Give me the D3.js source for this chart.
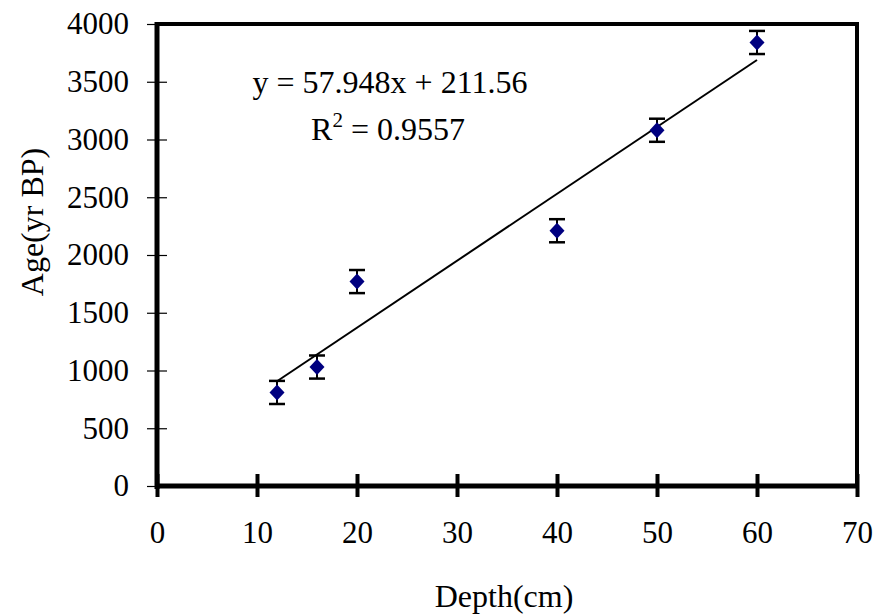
<!DOCTYPE html>
<html>
<head>
<meta charset="utf-8">
<script src="https://cdnjs.cloudflare.com/ajax/libs/d3/7.8.5/d3.min.js"></script>
<style>
  body { margin: 0; background: #fff; }
  text { font-family: "Liberation Serif", "Times New Roman", serif; fill: #000; }
</style>
</head>
<body>
<script>
// data
var depth = [12, 16, 20, 40, 50, 60];
var age = [810, 1030, 1770, 2210, 3080, 3840];
var err = [100, 100, 100, 100, 100, 100];
var slope = 57.948, intercept = 211.56;
var xTicks = [0, 10, 20, 30, 40, 50, 60, 70];
var yTicks = [0, 500, 1000, 1500, 2000, 2500, 3000, 3500, 4000];

var w = 875, h = 616;
var pLeft = 157, pRight = 857, pTop = 24, pBottom = 486;
var serif = "Liberation Serif, Times New Roman, serif";

var svg = d3.select("body").append("svg")
    .attr("width", w)
    .attr("height", h);

var x = d3.scaleLinear().domain([0, 70]).range([pLeft, pRight]);
var y = d3.scaleLinear().domain([0, 4000]).range([pBottom, pTop]);

// frame top / right
svg.append("line").attr("x1", pLeft).attr("x2", pRight + 2).attr("y1", pTop).attr("y2", pTop)
    .attr("stroke", "#000").attr("stroke-width", 4);
svg.append("line").attr("x1", pRight).attr("x2", pRight).attr("y1", pTop - 2).attr("y2", pBottom)
    .attr("stroke", "#000").attr("stroke-width", 4);

// y axis: thin ticks across the axis line
var yAxis = svg.append("g").attr("transform", "translate(" + pLeft + ",0)")
    .call(d3.axisLeft(y).tickValues(yTicks).tickSize(10).tickPadding(18).tickFormat(d3.format("d")));
yAxis.select(".domain").remove();
yAxis.selectAll(".tick line").attr("x2", 10).attr("x1", -10).attr("stroke", "#000").attr("stroke-width", 1.2);
yAxis.selectAll(".tick text").attr("font-size", 31).attr("font-family", serif);

// x axis: thick ticks across
var xAxis = svg.append("g").attr("transform", "translate(0," + pBottom + ")")
    .call(d3.axisBottom(x).tickValues(xTicks).tickSize(11).tickPadding(24));
xAxis.select(".domain").remove();
xAxis.selectAll(".tick line").attr("y1", -12).attr("y2", 11).attr("stroke", "#000").attr("stroke-width", 4);
xAxis.selectAll(".tick text").attr("font-size", 31).attr("font-family", serif);

// left / bottom axis lines (thick)
svg.append("line").attr("x1", pLeft).attr("x2", pLeft).attr("y1", pTop - 2).attr("y2", pBottom + 3)
    .attr("stroke", "#000").attr("stroke-width", 5);
svg.append("line").attr("x1", pLeft - 2).attr("x2", pRight + 2).attr("y1", pBottom).attr("y2", pBottom)
    .attr("stroke", "#000").attr("stroke-width", 5);

// trend line
var x0 = d3.min(depth), x1 = d3.max(depth);
svg.append("line")
    .attr("x1", x(x0)).attr("y1", y(slope * x0 + intercept))
    .attr("x2", x(x1)).attr("y2", y(slope * x1 + intercept))
    .attr("stroke", "#000").attr("stroke-width", 2);

// error bars
var bars = svg.selectAll(".err").data(depth).enter().append("g").attr("class", "err");
bars.append("line")
    .attr("x1", function(d) { return x(d); })
    .attr("x2", function(d) { return x(d); })
    .attr("y1", function(d, i) { return y(age[i] + err[i]); })
    .attr("y2", function(d, i) { return y(age[i] - err[i]); })
    .attr("stroke", "#000").attr("stroke-width", 2);
[1, -1].forEach(function(s) {
  bars.append("line")
      .attr("x1", function(d) { return x(d) - 8; })
      .attr("x2", function(d) { return x(d) + 8; })
      .attr("y1", function(d, i) { return y(age[i] + s * err[i]); })
      .attr("y2", function(d, i) { return y(age[i] + s * err[i]); })
      .attr("stroke", "#000").attr("stroke-width", 2.5);
});

// diamonds
svg.selectAll(".pt").data(depth).enter().append("path")
    .attr("class", "pt")
    .attr("d", "M0,-8L7.5,0L0,8L-7.5,0Z")
    .attr("transform", function(d, i) { return "translate(" + x(d) + "," + y(age[i]) + ")"; })
    .attr("fill", "#000080");

// equation
svg.append("text").attr("x", 390).attr("y", 93).attr("text-anchor", "middle")
    .attr("font-size", 32).text("y = 57.948x + 211.56");
var r2 = svg.append("text").attr("x", 388).attr("y", 140).attr("text-anchor", "middle").attr("font-size", 32);
r2.append("tspan").text("R");
r2.append("tspan").attr("dy", -13).attr("font-size", 21).text("2");
r2.append("tspan").attr("dy", 13).text(" = 0.9557");

// axis titles
svg.append("text").attr("x", 504).attr("y", 607).attr("text-anchor", "middle")
    .attr("font-size", 32).text("Depth(cm)");
svg.append("text").attr("transform", "translate(43,222) rotate(-90)").attr("text-anchor", "middle")
    .attr("font-size", 32).text("Age(yr BP)");
</script>
</body>
</html>
